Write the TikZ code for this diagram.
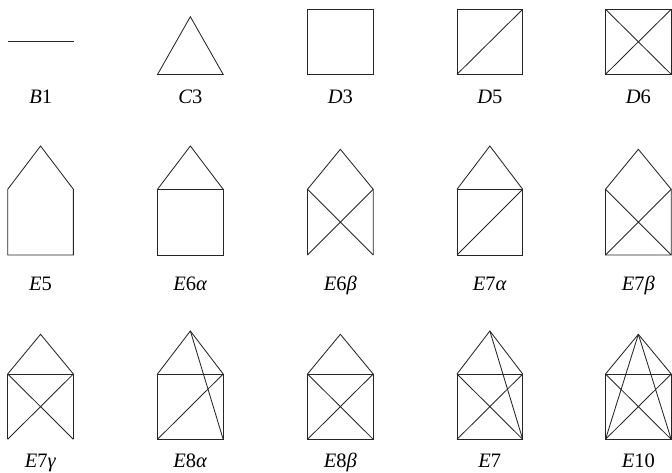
\documentclass[tikz,border=0pt]{standalone}
\usepackage{fontspec}
\setmainfont{Liberation Serif}
\newcommand\lbl[2]{{\itshape #1}#2}
% #1 name, #2 left x, #3 bottom y, #4 eaves y, #5 apex y
\newcommand\mkhouse[5]{%
  \coordinate (#1bl) at (#2,#3);
  \coordinate (#1br) at (#2+65.7,#3);
  \coordinate (#1tl) at (#2,#4);
  \coordinate (#1tr) at (#2+65.7,#4);
  \coordinate (#1a) at (#2+32.85,#5);
  \coordinate (#1lab) at (#2+32.85,0);}
\begin{document}
\begin{tikzpicture}[x=1pt,y=1pt,
  edge/.style={line width=0.85pt,line join=miter,draw=black!85},
  lab/.style={anchor=base,inner sep=0pt,font=\fontsize{20.5}{24}\selectfont}]
\useasboundingbox (0,0) rectangle (672,472);
% ---------- row 1 ----------
\coordinate (b1l) at (7.7,430.3);
\coordinate (b1r) at (73.7,430.3);
\draw[edge] (b1l) -- (b1r);
\node[lab] (B1) at (40.7,368) {\lbl{B}{1}};
\coordinate (c3l) at (157.5,397.5);
\coordinate (c3r) at (223.2,397.5);
\coordinate (c3a) at (190.35,455.3);
\draw[edge] (c3l) -- (c3r) -- (c3a) -- cycle;
\node[lab] (C3) at (190.35,368) {\lbl{C}{3}};
\mkhouse{dd}{307.5}{397.7}{462.7}{462.7}
\draw[edge] (ddbl) rectangle (ddtr);
\node[lab] (D3) at (340.35,368) {\lbl{D}{3}};
\mkhouse{df}{457}{397.7}{462.7}{462.7}
\draw[edge] (dfbl) rectangle (dftr);
\draw[edge] (dfbl) -- (dftr);
\node[lab] (D5) at (489.85,368) {\lbl{D}{5}};
\mkhouse{ds}{605.5}{397.7}{462.7}{462.7}
\draw[edge] (dsbl) rectangle (dstr);
\draw[edge] (dsbl) -- (dstr) (dsbr) -- (dstl);
\node[lab] (D6) at (638.35,368) {\lbl{D}{6}};
% ---------- row 2 ----------
\mkhouse{ea}{7.7}{217}{282.7}{326}
\draw[edge] (eatl) -- (eabl) -- (eabr) -- (eatr) -- (eaa) -- cycle;
\node[lab] (E5) at (ealab|-0,182) {\lbl{E}{5}};
\mkhouse{eb}{157.5}{217}{282.7}{326}
\draw[edge] (ebbl) rectangle (ebtr);
\draw[edge] (ebtl) -- (eba) -- (ebtr);
\node[lab] (E6a) at (eblab|-0,182) {\lbl{E}{6\textit{α}}};
\mkhouse{ec}{307.5}{217}{282.7}{322.7}
\draw[edge] (ecbl) -- (ectl) -- (eca) -- (ectr) -- (ecbr);
\draw[edge] (ecbl) -- (ectr) (ecbr) -- (ectl);
\node[lab] (E6b) at (eclab|-0,182) {\lbl{E}{6\textit{β}}};
\mkhouse{ed}{457}{217}{282.7}{326}
\draw[edge] (edbl) rectangle (edtr);
\draw[edge] (edtl) -- (eda) -- (edtr);
\draw[edge] (edbl) -- (edtr);
\node[lab] (E7a) at (edlab|-0,182) {\lbl{E}{7\textit{α}}};
\mkhouse{ee}{605.5}{217}{282.7}{322.7}
\draw[edge] (eetl) -- (eebl) -- (eebr) -- (eetr) -- (eea) -- cycle;
\draw[edge] (eebl) -- (eetr) (eebr) -- (eetl);
\node[lab] (E7b) at (eelab|-0,182) {\lbl{E}{7\textit{β}}};
% ---------- row 3 ----------
\mkhouse{fa}{7.7}{32.7}{98}{137.7}
\draw[edge] (fabl) -- (fatl) -- (fatr) -- (fabr);
\draw[edge] (fatl) -- (faa) -- (fatr);
\draw[edge] (fabl) -- (fatr) (fabr) -- (fatl);
\node[lab] (E7g) at (falab|-0,5) {\lbl{E}{7\textit{γ}}};
\mkhouse{fb}{157.5}{32.7}{98}{141}
\draw[edge] (fbbl) rectangle (fbtr);
\draw[edge] (fbtl) -- (fba) -- (fbtr);
\draw[edge] (fbbl) -- (fbtr) (fba) -- (fbbr);
\node[lab] (E8a) at (fblab|-0,5) {\lbl{E}{8\textit{α}}};
\mkhouse{fc}{307.5}{32.7}{98}{137.7}
\draw[edge] (fcbl) rectangle (fctr);
\draw[edge] (fctl) -- (fca) -- (fctr);
\draw[edge] (fcbl) -- (fctr) (fcbr) -- (fctl);
\node[lab] (E8b) at (fclab|-0,5) {\lbl{E}{8\textit{β}}};
\mkhouse{fd}{457}{32.7}{98}{141}
\draw[edge] (fdbl) rectangle (fdtr);
\draw[edge] (fdtl) -- (fda) -- (fdtr);
\draw[edge] (fdbl) -- (fdtr) (fdbr) -- (fdtl) (fda) -- (fdbr);
\node[lab] (E7) at (fdlab|-0,5) {\lbl{E}{7}};
\mkhouse{fe}{605.5}{32.7}{98}{137.7}
\draw[edge] (febl) rectangle (fetr);
\draw[edge] (fetl) -- (fea) -- (fetr);
\draw[edge] (febl) -- (fetr) (febr) -- (fetl) (fea) -- (febr) (fea) -- (febl);
\node[lab] (E10) at (felab|-0,5) {\lbl{E}{10}};
\end{tikzpicture}
\end{document}
